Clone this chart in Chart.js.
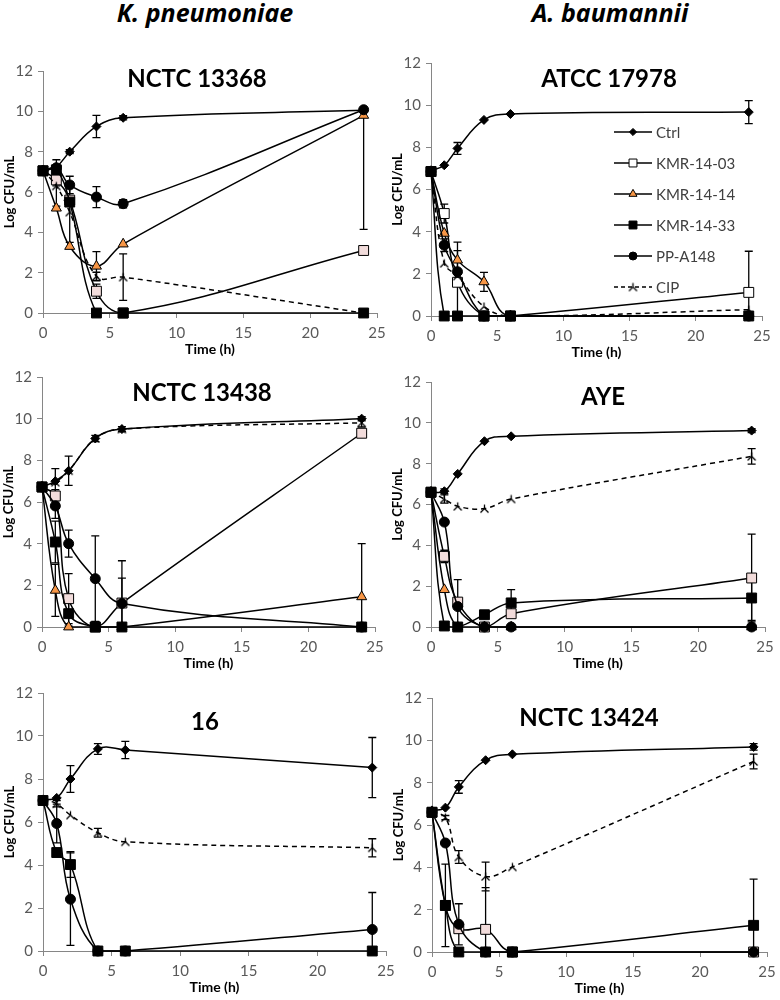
<!DOCTYPE html>
<html>
<head>
<meta charset="utf-8">
<script src="https://cdn.jsdelivr.net/npm/chart.js@4.4.1/dist/chart.umd.min.js"></script>
<style>
  body { margin: 0; background: #fff; width: 780px; height: 1000px; position: relative; overflow: hidden; font-family: Lato, sans-serif; }
  .cabecalho { position: absolute; top: 0; width: 400px; text-align: center; font: italic bold 25px 'Open Sans', sans-serif; line-height: 25px; color: #000; }
  .painel { position: absolute; }
</style>
</head>
<body>
<div class="cabecalho" style="left:5px">K. pneumoniae</div>
<div class="cabecalho" style="left:410px">A. baumannii</div>
<div class="painel" id="p1"><canvas></canvas></div>
<div class="painel" id="p2"><canvas></canvas></div>
<div class="painel" id="p3"><canvas></canvas></div>
<div class="painel" id="p4"><canvas></canvas></div>
<div class="painel" id="p5"><canvas></canvas></div>
<div class="painel" id="p6"><canvas></canvas></div>
<script>
const horas = [0, 1, 2, 4, 6, 24];
const nomesSeries = ['Ctrl', 'KMR-14-03', 'KMR-14-14', 'KMR-14-33', 'PP-A148', 'CIP'];
const ticksY = [0, 2, 4, 6, 8, 10, 12];
const ticksX = [0, 5, 10, 15, 20, 25];

// K. pneumoniae NCTC 13368
const kp13368Ctrl = [7.05, 7.25, 8.0, 9.25, 9.68, 10.05];
const kp13368CtrlErr = [0, 0.35, 0.1, 0.55, 0.1, 0];
const kp13368K03 = [7.05, 6.6, 5.6, 1.08, 0, 3.1];
const kp13368K03Err = [0, 0.3, 0, 0.35, 0, 0];
const kp13368K14 = [7.05, 5.2, 3.3, 2.32, 3.42, 9.8];
const kp13368K14Err = [0, 0, 0, 0.72, 0, [5.65, 0]];
const kp13368K33 = [7.05, 7.1, 5.5, 0, 0, 0];
const kp13368K33Err = [0, 0, 0, 0, 0, 0];
const kp13368PP = [7.05, 7.2, 6.35, 5.75, 5.42, 10.08];
const kp13368PPErr = [0, 0, 0.43, 0.52, 0.2, 0];
const kp13368Cip = [7.05, 6.3, 5.0, 1.82, 1.78, 0];
const kp13368CipErr = [0, 1.0, 1.5, 0.2, 1.15, 0];

// A. baumannii ATCC 17978
const ab17978Ctrl = [6.9, 7.15, 7.95, 9.3, 9.58, 9.67];
const ab17978CtrlErr = [0, 0, 0.28, 0, 0, 0.55];
const ab17978K03 = [6.85, 4.86, 1.6, 0, 0, 1.12];
const ab17978K03Err = [0, 0.45, 1.5, 0, 0, 1.95];
const ab17978K14 = [6.85, 3.92, 2.65, 1.62, 0, 0];
const ab17978K14Err = [0, 0, 0.85, 0.45, 0, 0];
const ab17978K33 = [6.85, 0, 0, 0, 0, 0];
const ab17978K33Err = [0, 0, 0, 0, 0, 0];
const ab17978PP = [6.85, 3.36, 2.1, 0, 0, 0];
const ab17978PPErr = [0, 0.3, 0, 0, 0, 0];
const ab17978Cip = [6.85, 2.5, 1.9, 0.45, 0, 0.3];
const ab17978CipErr = [0, 0, 0, 0, 0, 0];

// K. pneumoniae NCTC 13438
const kp13438Ctrl = [6.72, 7.0, 7.5, 9.05, 9.5, 10.0];
const kp13438CtrlErr = [0, 0, 0, 0, 0, 0.1];
const kp13438K03 = [6.72, 6.29, 1.36, 0, 1.15, 9.3];
const kp13438K03Err = [0, 0.3, 1.2, 0, 1.2, 0.15];
const kp13438K14 = [6.72, 1.76, 0, 0, 0, 1.45];
const kp13438K14Err = [0, 1.25, 0, 0, 0, 2.55];
const kp13438K33 = [6.72, 4.08, 0.64, 0, 0, 0];
const kp13438K33Err = [0, 1.0, 0.6, 0, 0, 0];
const kp13438PP = [6.72, 5.81, 4.0, 2.32, 1.13, 0];
const kp13438PPErr = [0, 0.6, 0.65, 2.05, 2.05, 0];
const kp13438Cip = [6.72, 6.95, 7.5, 9.05, 9.5, 9.8];
const kp13438CipErr = [0, 0.65, 0.7, 0.15, 0.12, 0.2];

// A. baumannii AYE
const abAyeCtrl = [6.6, 6.65, 7.5, 9.1, 9.34, 9.62];
const abAyeCtrlErr = [0, 0.12, 0, 0, 0, 0.1];
const abAyeK03 = [6.6, 3.46, 1.22, 0, 0.65, 2.4];
const abAyeK03Err = [0, 0.3, 1.1, 0, 0, 2.15];
const abAyeK14 = [6.6, 1.83, 0, 0, 0, 0];
const abAyeK14Err = [0, 0, 0, 0, 0, 0];
const abAyeK33 = [6.6, 0.05, 0, 0.6, 1.18, 1.42];
const abAyeK33Err = [0, 0, 0, 0, 0.65, 1.1];
const abAyePP = [6.6, 5.14, 1.0, 0, 0, 0];
const abAyePPErr = [0, 0, 0, 0, 0, 0];
const abAyeCip = [6.6, 6.27, 5.91, 5.8, 6.27, 8.36];
const abAyeCipErr = [0, 0.2, 0, 0, 0, 0.38];

// K. pneumoniae 16
const kp16Ctrl = [7.05, 7.12, 8.0, 9.4, 9.35, 8.53];
const kp16CtrlErr = [0, 0, 0.62, 0.25, 0.4, 1.4];
const kp16K33 = [7.0, 4.58, 4.02, 0, 0, 0];
const kp16K33Err = [0, 0, 0.6, 0, 0, 0];
const kp16PP = [7.0, 5.93, 2.41, 0, 0, 1.0];
const kp16PPErr = [0, 0.9, 2.15, 0, 0, 1.72];
const kp16Cip = [7.05, 6.85, 6.32, 5.5, 5.08, 4.8];
const kp16CipErr = [0, 0.15, 0, 0.2, 0, 0.42];

// A. baumannii NCTC 13424
const ab13424Ctrl = [6.69, 6.82, 7.8, 9.06, 9.34, 9.69];
const ab13424CtrlErr = [0, 0, 0.3, 0, 0, 0.15];
const ab13424K03 = [6.6, 2.2, 1.1, 1.07, 0, 0];
const ab13424K03Err = [0, 0, 0, 1.97, 0, 0];
const ab13424K33 = [6.6, 2.2, 0, 0, 0, 1.26];
const ab13424K33Err = [0, 1.95, 0, 0, 0, 2.18];
const ab13424PP = [6.6, 5.15, 1.31, 0, 0, 0];
const ab13424PPErr = [0, 0, 0.97, 0, 0, 0];
const ab13424Cip = [6.61, 6.35, 4.49, 3.57, 4.02, 9.0];
const ab13424CipErr = [0, 0.1, 0.3, 0.68, 0, 0.35];

const rosa = '#f2dcdb';
const laranja = '#f79646';

// marcador do CIP (tipo um Y invertido)
const marcadorCip = document.createElement('canvas');
marcadorCip.width = 11;
marcadorCip.height = 11;
(function () {
  const c = marcadorCip.getContext('2d');
  c.strokeStyle = '#000';
  c.lineWidth = 1.3;
  c.beginPath();
  c.moveTo(5.5, 1.5); c.lineTo(5.5, 5.5);
  c.lineTo(1.5, 9.5);
  c.moveTo(5.5, 5.5); c.lineTo(9.5, 9.5);
  c.stroke();
})();

const estilos = {
  'Ctrl': { ponto: 'rectRot', raio: 4.5, fundo: '#000' },
  'KMR-14-03': { ponto: 'rect', raio: 7, fundo: '#fff' },
  'KMR-14-14': { ponto: 'triangle', raio: 5.8, fundo: laranja },
  'KMR-14-33': { ponto: 'rect', raio: 7, fundo: '#000' },
  'PP-A148': { ponto: 'circle', raio: 5, fundo: '#000' },
  'CIP': { ponto: marcadorCip, raio: 5, fundo: '#000' }
};

function serie(nome, valores, erros, fundo) {
  const e = estilos[nome];
  return {
    label: nome,
    data: horas.map((h, i) => ({ x: h, y: valores[i] })),
    erros: erros,
    borderColor: '#000',
    borderWidth: 1.5,
    borderDash: nome === 'CIP' ? [5, 4] : [],
    tension: 0.4,
    pointStyle: e.ponto,
    pointRadius: e.raio,
    pointHoverRadius: e.raio,
    pointBackgroundColor: fundo || e.fundo,
    pointBorderColor: '#000',
    pointBorderWidth: 1,
    clip: false,
    order: 5 - nomesSeries.indexOf(nome)
  };
}

const paineis = [
  { id: 'p1', area: [43, 71, 377, 313], titulo: 'NCTC 13368', tituloPos: [197, 79], series: [
    serie('Ctrl', kp13368Ctrl, kp13368CtrlErr),
    serie('KMR-14-03', kp13368K03, kp13368K03Err, rosa),
    serie('KMR-14-14', kp13368K14, kp13368K14Err),
    serie('KMR-14-33', kp13368K33, kp13368K33Err),
    serie('PP-A148', kp13368PP, kp13368PPErr),
    serie('CIP', kp13368Cip, kp13368CipErr)
  ] },
  { id: 'p2', area: [431, 63, 762, 316], titulo: 'ATCC 17978', tituloPos: [609, 79], legenda: true, series: [
    serie('Ctrl', ab17978Ctrl, ab17978CtrlErr),
    serie('KMR-14-03', ab17978K03, ab17978K03Err, '#fff'),
    serie('KMR-14-14', ab17978K14, ab17978K14Err),
    serie('KMR-14-33', ab17978K33, ab17978K33Err),
    serie('PP-A148', ab17978PP, ab17978PPErr),
    serie('CIP', ab17978Cip, ab17978CipErr)
  ] },
  { id: 'p3', area: [42, 377, 375, 627], titulo: 'NCTC 13438', tituloPos: [202, 393], series: [
    serie('Ctrl', kp13438Ctrl, kp13438CtrlErr),
    serie('KMR-14-03', kp13438K03, kp13438K03Err, rosa),
    serie('KMR-14-14', kp13438K14, kp13438K14Err),
    serie('KMR-14-33', kp13438K33, kp13438K33Err),
    serie('PP-A148', kp13438PP, kp13438PPErr),
    serie('CIP', kp13438Cip, kp13438CipErr)
  ] },
  { id: 'p4', area: [431, 382, 765, 627], titulo: 'AYE', tituloPos: [603, 397], series: [
    serie('Ctrl', abAyeCtrl, abAyeCtrlErr),
    serie('KMR-14-03', abAyeK03, abAyeK03Err, rosa),
    serie('KMR-14-14', abAyeK14, abAyeK14Err),
    serie('KMR-14-33', abAyeK33, abAyeK33Err),
    serie('PP-A148', abAyePP, abAyePPErr),
    serie('CIP', abAyeCip, abAyeCipErr)
  ] },
  { id: 'p5', area: [43, 693, 386, 951], titulo: '16', tituloPos: [205, 722], series: [
    serie('Ctrl', kp16Ctrl, kp16CtrlErr),
    serie('KMR-14-33', kp16K33, kp16K33Err),
    serie('PP-A148', kp16PP, kp16PPErr),
    serie('CIP', kp16Cip, kp16CipErr)
  ] },
  { id: 'p6', area: [432, 698, 767, 952], titulo: 'NCTC 13424', tituloPos: [589, 718], series: [
    serie('Ctrl', ab13424Ctrl, ab13424CtrlErr),
    serie('KMR-14-03', ab13424K03, ab13424K03Err, rosa),
    serie('KMR-14-33', ab13424K33, ab13424K33Err),
    serie('PP-A148', ab13424PP, ab13424PPErr),
    serie('CIP', ab13424Cip, ab13424CipErr)
  ] }
];

const ESQ = 43, TOPO = 15, DIR = 15, BAIXO = 45;

Chart.defaults.font.family = 'Lato, sans-serif';
Chart.defaults.color = '#595959';

const barrasErro = {
  id: 'barrasErro',
  beforeDatasetsDraw(chart) {
    const { ctx, scales: { x, y } } = chart;
    ctx.save();
    ctx.strokeStyle = '#000';
    ctx.lineWidth = 1.3;
    chart.data.datasets.forEach(ds => {
      if (!ds.erros) return;
      ds.data.forEach((p, i) => {
        const e = ds.erros[i];
        if (!e || p.y == null) return;
        const [menos, mais] = Array.isArray(e) ? e : [e, e];
        const px = x.getPixelForValue(p.x);
        const lo = p.y - menos, hi = p.y + mais;
        const y0 = y.getPixelForValue(Math.max(lo, y.min));
        const y1 = y.getPixelForValue(Math.min(hi, y.max));
        ctx.beginPath();
        ctx.moveTo(px, y0);
        ctx.lineTo(px, y1);
        if (menos > 0 && lo >= y.min) { ctx.moveTo(px - 4, y0); ctx.lineTo(px + 4, y0); }
        if (mais > 0 && hi <= y.max) { ctx.moveTo(px - 4, y1); ctx.lineTo(px + 4, y1); }
        ctx.stroke();
      });
    });
    ctx.restore();
  }
};

const tituloPainel = {
  id: 'tituloPainel',
  afterDraw(chart, args, opts) {
    const ctx = chart.ctx;
    ctx.save();
    ctx.font = 'bold 24px Lato, sans-serif';
    ctx.fillStyle = '#000';
    ctx.textAlign = 'center';
    ctx.textBaseline = 'middle';
    ctx.fillText(opts.texto, opts.x, opts.y);
    ctx.restore();
  }
};

const legendaInterna = {
  id: 'legendaInterna',
  afterDraw(chart, args, opts) {
    if (!opts.mostrar) return;
    const ctx = chart.ctx;
    ctx.save();
    chart.data.datasets.forEach((ds, i) => {
      const y = opts.y + i * 31;
      ctx.strokeStyle = '#000';
      ctx.lineWidth = 1.5;
      ctx.setLineDash(ds.label === 'CIP' ? [4, 3] : []);
      ctx.beginPath();
      ctx.moveTo(opts.x, y);
      ctx.lineTo(opts.x + 38, y);
      ctx.stroke();
      ctx.setLineDash([]);
      ctx.fillStyle = ds.pointBackgroundColor;
      ctx.lineWidth = 1;
      Chart.helpers.drawPoint(ctx, { pointStyle: ds.pointStyle, radius: ds.pointRadius * 0.8, borderWidth: 1, rotation: 0 }, opts.x + 19, y);
      ctx.fillStyle = '#404040';
      ctx.font = '15px Lato, sans-serif';
      ctx.textAlign = 'left';
      ctx.textBaseline = 'middle';
      ctx.fillText(ds.label, opts.x + 42, y + 1);
    });
    ctx.restore();
  }
};

paineis.forEach(p => {
  const [l, t, r, b] = p.area;
  const caixa = document.getElementById(p.id);
  const esq = l - ESQ, topo = t - TOPO;
  caixa.style.left = esq + 'px';
  caixa.style.top = topo + 'px';
  caixa.style.width = (r - l + ESQ + DIR) + 'px';
  caixa.style.height = (b - t + TOPO + BAIXO) + 'px';

  new Chart(caixa.querySelector('canvas'), {
    type: 'line',
    data: { datasets: p.series },
    plugins: [barrasErro, tituloPainel, legendaInterna],
    options: {
      responsive: true,
      maintainAspectRatio: false,
      animation: false,
      events: [],
      layout: { padding: { left: 0, top: TOPO, right: DIR, bottom: 0 } },
      plugins: {
        legend: { display: false },
        tooltip: { enabled: false },
        tituloPainel: { texto: p.titulo, x: p.tituloPos[0] - esq, y: p.tituloPos[1] - topo },
        legendaInterna: { mostrar: !!p.legenda, x: 614 - esq, y: 132 - topo }
      },
      scales: {
        x: {
          type: 'linear',
          min: ticksX[0],
          max: ticksX[ticksX.length - 1],
          afterFit: s => { s.height = BAIXO; },
          ticks: { stepSize: ticksX[1] - ticksX[0], padding: 6, font: { size: 15 }, color: '#595959', maxRotation: 0 },
          grid: { drawOnChartArea: false, drawTicks: true, tickLength: 5, color: '#868686' },
          border: { color: '#868686' },
          title: { display: true, text: 'Time (h)', color: '#000', font: { size: 14, weight: 'bold' }, padding: { top: 0, bottom: 0 } }
        },
        y: {
          min: ticksY[0],
          max: ticksY[ticksY.length - 1],
          afterFit: s => { s.width = ESQ; },
          ticks: { stepSize: ticksY[1] - ticksY[0], padding: 5, font: { size: 15 }, color: '#595959' },
          grid: { drawOnChartArea: false, drawTicks: true, tickLength: 5, color: '#868686' },
          border: { color: '#868686' },
          title: { display: true, text: 'Log CFU/mL', color: '#000', font: { size: 13, weight: 'bold' }, padding: { top: 2, bottom: 0 } }
        }
      }
    }
  });
});
</script>
</body>
</html>
